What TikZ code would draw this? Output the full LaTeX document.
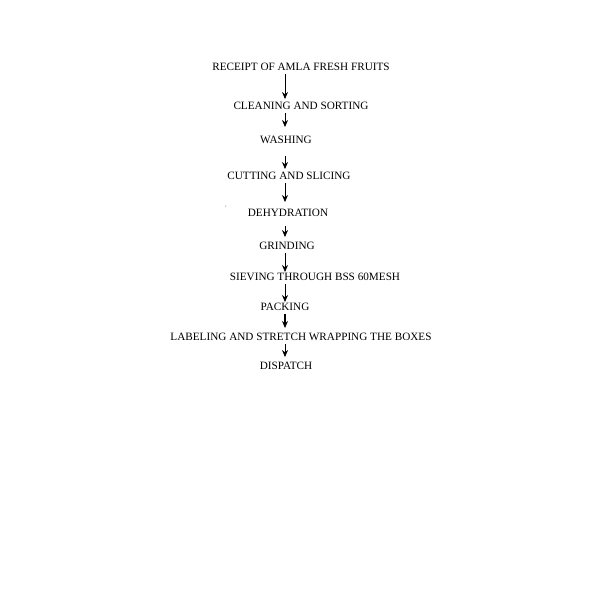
\documentclass[tikz,border=0pt]{standalone}
\usepackage{fontspec}
\setmainfont{Liberation Serif}
\usetikzlibrary{arrows.meta}

\begin{document}
\begin{tikzpicture}[x=1pt, y=-1pt, every node/.style={inner sep=1pt, font=\fontsize{11.2}{13}\selectfont}, flow/.style={-{Stealth[length=7pt,width=6pt]}, line width=0.8pt, shorten <=2pt, shorten >=2pt}]
  \useasboundingbox[fill=white] (0,0) rectangle (600,600);
  \coordinate (axis) at (285,0);
  \node (receipt) at (301,67) {RECEIPT OF AMLA FRESH FRUITS};
  \node (cleaning) at (301,106) {CLEANING AND SORTING};
  \node (washing) at (286,140) {WASHING};
  \node (cutting) at (289,176) {CUTTING AND SLICING};
  \node (tick) at (226,208) {\fontsize{5}{6}\selectfont '};
  \node (dehydration) at (288,213) {DEHYDRATION};
  \node (grinding) at (287,246) {GRINDING};
  \node (sieving) at (315,277) {SIEVING THROUGH BSS 60MESH};
  \node (packing) at (285,307) {PACKING};
  \node (labeling) at (301,337) {LABELING AND STRETCH WRAPPING THE BOXES};
  \node (dispatch) at (286,366) {DISPATCH};

  \draw[flow] (receipt.south -| axis) -- (cleaning.north -| axis);
  \draw[flow, shorten >=8pt] (cleaning.south -| axis) -- (washing.north -| axis);
  \draw[flow, shorten <=11pt] (washing.south -| axis) -- (cutting.north -| axis);
  \draw[flow, shorten >=6pt] (cutting.south -| axis) -- (dehydration.north -| axis);
  \draw[flow, shorten <=8pt, shorten >=4pt] (dehydration.south -| axis) -- (grinding.north -| axis);
  \draw[flow, shorten >=0pt] (grinding.south -| axis) -- (sieving.north -| axis);
  \draw[flow, shorten >=0pt] (sieving.south -| axis) -- (packing.north -| axis);
  \draw[flow, line width=1.2pt, shorten >=4pt] (packing.south -| axis) -- (labeling.north -| axis);
  \draw[flow, shorten >=4pt] (labeling.south -| axis) -- (dispatch.north -| axis);
\end{tikzpicture}
\end{document}
